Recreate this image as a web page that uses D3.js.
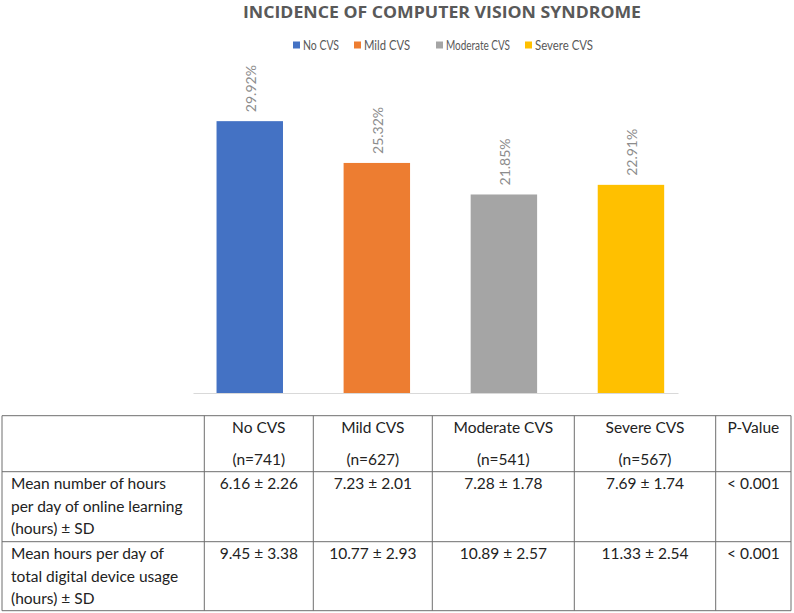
<!DOCTYPE html>
<html><head><meta charset="utf-8">
<script src="https://cdn.jsdelivr.net/npm/d3@7"></script>
<style>html,body{margin:0;padding:0;background:#fff;} svg{display:block;}</style>
</head><body>
<script>
const categories = ["No CVS", "Mild CVS", "Moderate CVS", "Severe CVS"];
const incidence = [29.92, 25.32, 21.85, 22.91];
const colors = ["#4472C4", "#ED7D31", "#A5A5A5", "#FFC000"];
const sampleSizes = ["(n=741)", "(n=627)", "(n=541)", "(n=567)"];
const rowLabels = [
  ["Mean number of hours", "per day of online learning", "(hours) \u00B1 SD"],
  ["Mean hours per day of", "total digital device usage", "(hours) \u00B1 SD"]
];
const onlineLearning = ["6.16 \u00B1 2.26", "7.23 \u00B1 2.01", "7.28 \u00B1 1.78", "7.69 \u00B1 1.74"];
const deviceUsage = ["9.45 \u00B1 3.38", "10.77 \u00B1 2.93", "10.89 \u00B1 2.57", "11.33 \u00B1 2.54"];
const pValues = ["< 0.001", "< 0.001"];
const title = "INCIDENCE OF COMPUTER VISION SYNDROME";

const W = 794, H = 613;
const svg = d3.select("body").append("svg").attr("width", W).attr("height", H);

const font = "Lato, 'Open Sans', sans-serif";

// Title
svg.append("text").attr("x", 442).attr("y", 17.5).attr("text-anchor", "middle")
  .attr("font-family", "'Open Sans', sans-serif").attr("font-weight", 700)
  .attr("font-size", 16.5).attr("fill", "#595959")
  .attr("textLength", 398).attr("lengthAdjust", "spacingAndGlyphs")
  .text(title);

// Legend
const legendX = [293, 354, 436, 525];
const legendW = [36, 46, 64, 58];
const leg = svg.append("g");
categories.forEach((c, i) => {
  const g = leg.append("g").attr("transform", `translate(${legendX[i]},0)`);
  g.append("rect").attr("x", 0).attr("y", 41.5).attr("width", 7).attr("height", 7).attr("fill", colors[i]);
  g.append("text").attr("x", 10).attr("y", 50).attr("font-family", font)
    .attr("font-size", 12.5).attr("fill", "#595959")
    .attr("textLength", legendW[i]).attr("lengthAdjust", "spacingAndGlyphs").text(c);
});

// Scales
const x = d3.scaleBand().domain(categories).range([193, 678]).paddingInner(0.477).paddingOuter(0.147).align(0.63);
const y = d3.scaleLinear().domain([0, 35]).range([393, 75]);

// Axis
const xAxis = svg.append("g").attr("transform", `translate(0,${y(0)})`)
  .call(d3.axisBottom(x).tickSize(0).tickFormat(""));
xAxis.select(".domain").attr("stroke", "#d9d9d9").attr("stroke-width", 1.2);

// Bars
svg.append("g").selectAll("rect").data(categories).join("rect")
  .attr("x", d => x(d)).attr("width", x.bandwidth())
  .attr("y", (d, i) => y(incidence[i])).attr("height", (d, i) => y(0) - y(incidence[i]))
  .attr("fill", (d, i) => colors[i]);

// Labels
svg.append("g").selectAll("text").data(categories).join("text")
  .attr("transform", (d, i) => `translate(${x(d) + x.bandwidth() / 2 + 1},${y(incidence[i]) - 9}) rotate(-90)`)
  .attr("dy", "0.35em").attr("font-family", font).attr("font-size", 14)
  .attr("fill", "#8c8c8c")
  .text((d, i) => incidence[i].toFixed(2) + "%");

// Table
const colX = [2, 204.3, 313.3, 432.3, 574.3, 715.7, 791];
const rowY = [415.7, 471.7, 541.7, 610.7];
const tb = svg.append("g");
const tFont = font, tSize = 15.5, tColor = "#222";

rowY.forEach(yy => tb.append("line").attr("x1", colX[0]).attr("x2", colX[colX.length - 1])
  .attr("y1", yy).attr("y2", yy).attr("stroke", "#6e6e6e").attr("stroke-width", 1));
colX.forEach(xx => tb.append("line").attr("x1", xx).attr("x2", xx)
  .attr("y1", rowY[0]).attr("y2", rowY[rowY.length - 1]).attr("stroke", "#6e6e6e").attr("stroke-width", 1));

const cx = i => (colX[i] + colX[i + 1]) / 2;
function txt(xx, yy, s, anchor) {
  tb.append("text").attr("x", xx).attr("y", yy).attr("text-anchor", anchor || "middle")
    .attr("font-family", tFont).attr("font-size", tSize).attr("fill", tColor).text(s);
}
categories.forEach((c, i) => {
  txt(cx(i + 1), 432.7, c);
  txt(cx(i + 1), 465, sampleSizes[i]);
});
txt(cx(5), 432.7, "P-Value");

[onlineLearning, deviceUsage].forEach((vals, r) => {
  const top = rowY[r + 1];
  rowLabels[r].forEach((l, k) => txt(11, top + 17.6 + k * 22.5, l, "start"));
  vals.forEach((v, i) => txt(cx(i + 1), top + 17.6, v));
  txt(cx(5), top + 17.6, pValues[r]);
});
</script>
</body></html>
